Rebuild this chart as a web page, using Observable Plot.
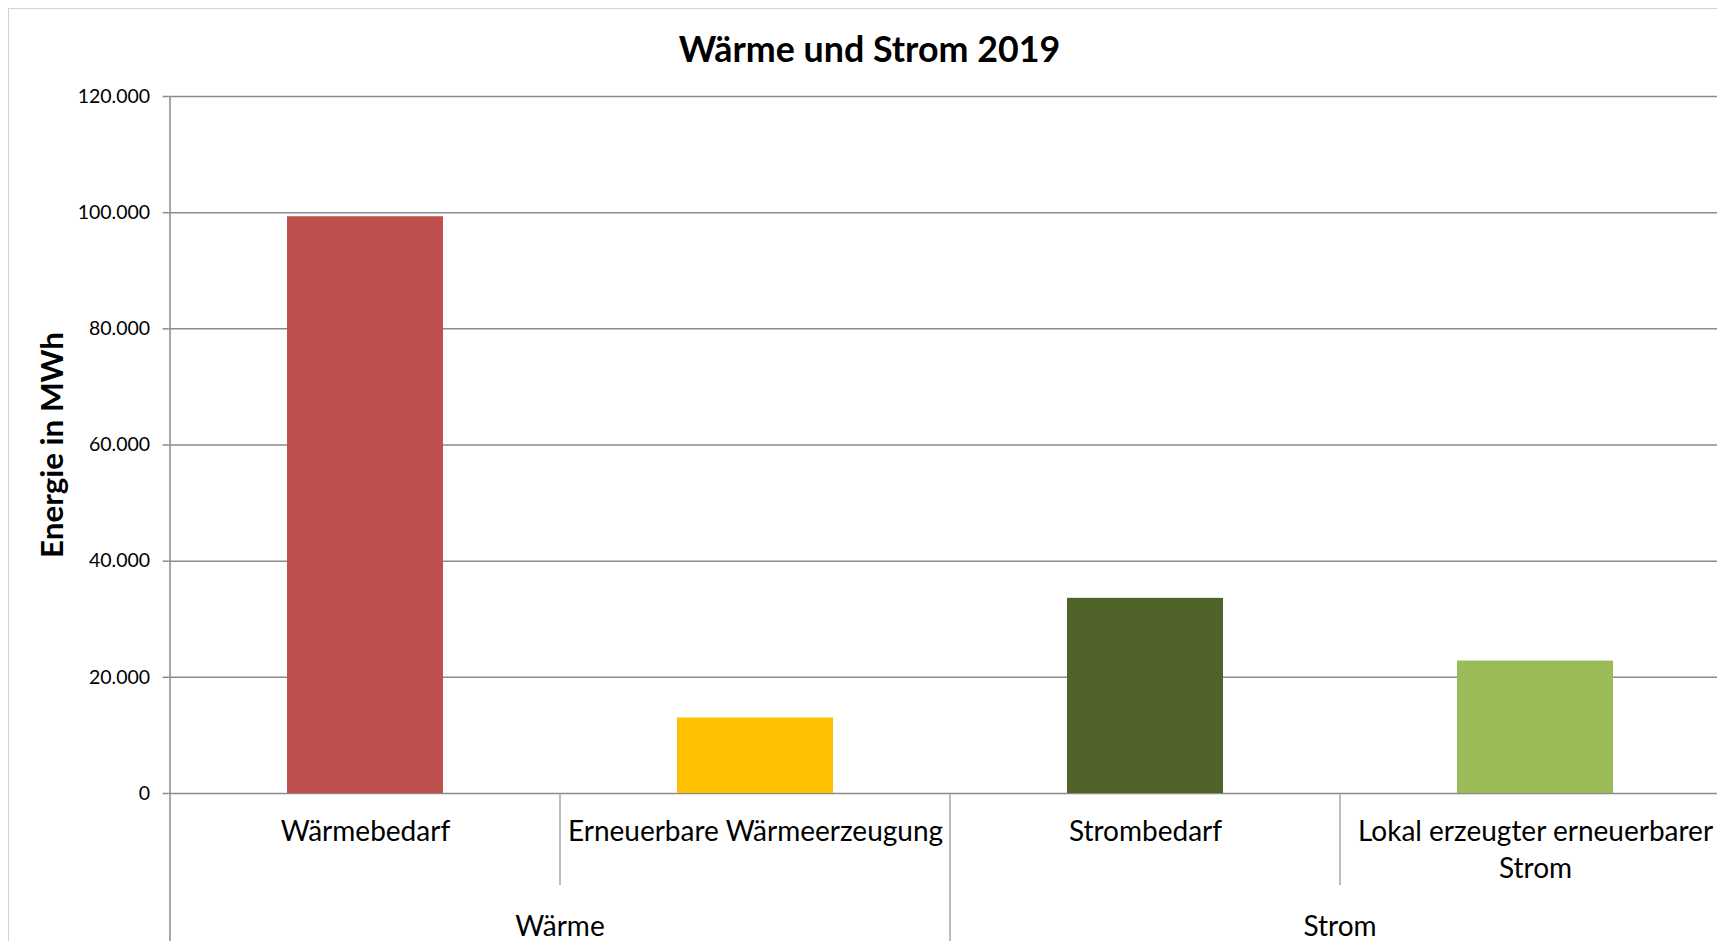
<!DOCTYPE html>
<html><head><meta charset="utf-8">
<script src="https://cdn.jsdelivr.net/npm/d3@7"></script>
<script src="https://cdn.jsdelivr.net/npm/@observablehq/plot@0.6"></script>
<style>
html,body{margin:0;padding:0;background:#fff;overflow:hidden;width:1717px;height:941px}
#wrap{position:relative;width:1717px;height:941px;overflow:hidden}
#frame{position:absolute;left:7.5px;top:8px;width:1800px;height:1100px;border:1.6px solid #d3d3d3;box-sizing:border-box}
#chart{position:absolute;left:0;top:0}
</style></head><body><div id="wrap"><div id="frame"></div><div id="chart"></div></div>
<script>
const title = "Wärme und Strom 2019";
const yLabel = "Energie in MWh";
const categories = ["Wärmebedarf", "Erneuerbare Wärmeerzeugung", "Strombedarf", "Lokal erzeugter erneuerbarer Strom"];
const categoryLabels = ["Wärmebedarf", "Erneuerbare Wärmeerzeugung", "Strombedarf", "Lokal erzeugter erneuerbarer\nStrom"];
const groupOf = ["Wärme", "Wärme", "Strom", "Strom"];
const groupNames = ["Wärme", "Strom"];
const energy = [99300, 13000, 33600, 22800];
const barColors = ["#C0504D", "#FFC000", "#4F6228", "#9BBB59"];
const yTicks = [0, 20000, 40000, 60000, 80000, 100000, 120000];

const data = categories.map((c, i) => ({cat: c, label: categoryLabels[i], group: groupOf[i], value: energy[i]}));
const de = d3.formatLocale({decimal: ",", thousands: ".", grouping: [3], currency: ["", " €"]});
const fmt = de.format(",d");

const gridColor = "#8a8a8a";
const sepColor = "#9a9a9a";
const FONT = "Lato, 'Open Sans', sans-serif";

function axisDecor(index, scales, vals, dims) {
  let xf = scales.x, bw, step;
  if (typeof xf.bandwidth === "function") { bw = xf.bandwidth(); step = xf.step(); }
  else { const s = scales.scales.x; bw = s.bandwidth; step = s.step; xf = s.apply; }
  const y0 = scales.y(0);
  const yTop = scales.y(yTicks[yTicks.length - 1]);
  const g = d3.create("svg:g");
  const lines = g.append("g").attr("stroke", sepColor).attr("stroke-width", 1.3).attr("fill", "none");
  // vertical axis line + left outer group separator
  const left = xf(categories[0]) + bw / 2 - step / 2;
  lines.append("line").attr("x1", left).attr("x2", left).attr("y1", yTop).attr("y2", dims.height)
    .attr("stroke", gridColor).attr("stroke-width", 1.5);
  categories.forEach((c, i) => {
    if (i === 0) return;
    const bx = xf(c) + bw / 2 - step / 2;
    const groupStart = groupOf[i] !== groupOf[i - 1];
    lines.append("line").attr("x1", bx).attr("x2", bx).attr("y1", y0)
      .attr("y2", groupStart ? dims.height : y0 + 92);
  });
  // group labels
  groupNames.forEach(name => {
    const idx = categories.map((c, i) => i).filter(i => groupOf[i] === name);
    const centers = idx.map(i => xf(categories[i]) + bw / 2);
    const cx = (d3.min(centers) + d3.max(centers)) / 2;
    g.append("text").attr("x", cx).attr("y", y0 + 134).attr("dy", "0.32em")
      .attr("text-anchor", "middle").attr("font-size", 28).attr("fill", "#000").text(name);
  });
  return g.node();
}

const chart = Plot.plot({
  width: 1717,
  height: 941,
  marginTop: 96,
  marginBottom: 148,
  marginLeft: 168.6,
  marginRight: 0,
  style: {fontFamily: FONT, background: "transparent", overflow: "visible"},
  x: {type: "band", domain: categories, range: [168.6, 1731], paddingInner: 0.6, paddingOuter: 0.3, axis: null},
  y: {domain: [0, 120000], axis: null},
  color: {domain: categories, range: barColors},
  marks: [
    Plot.gridY(yTicks, {stroke: gridColor, strokeOpacity: 1, strokeWidth: 1.5}),
    Plot.barY(data, {x: "cat", y: "value", fill: "cat"}),
    Plot.axisY(yTicks, {tickSize: 6, tickPadding: 13, tickFormat: fmt, fontSize: 19.5, stroke: gridColor, strokeWidth: 1.5, fill: "#000", label: null}),
    Plot.text(data, {x: "cat", text: "label", frameAnchor: "bottom", lineAnchor: "top", dy: 21.1, lineHeight: 1.33, fontSize: 28, fill: "#000"}),
    Plot.text([title], {frameAnchor: "top", dx: -73.8, dy: -46, lineAnchor: "middle", fontSize: 35.8, fontWeight: "bold", fill: "#000"}),
    Plot.text([yLabel], {frameAnchor: "left", rotate: -90, dx: -116, lineAnchor: "middle", textAnchor: "middle", fontSize: 31.4, fontWeight: "bold", fill: "#000"}),
    axisDecor
  ]
});
document.getElementById("chart").appendChild(chart);
</script>
</body></html>
